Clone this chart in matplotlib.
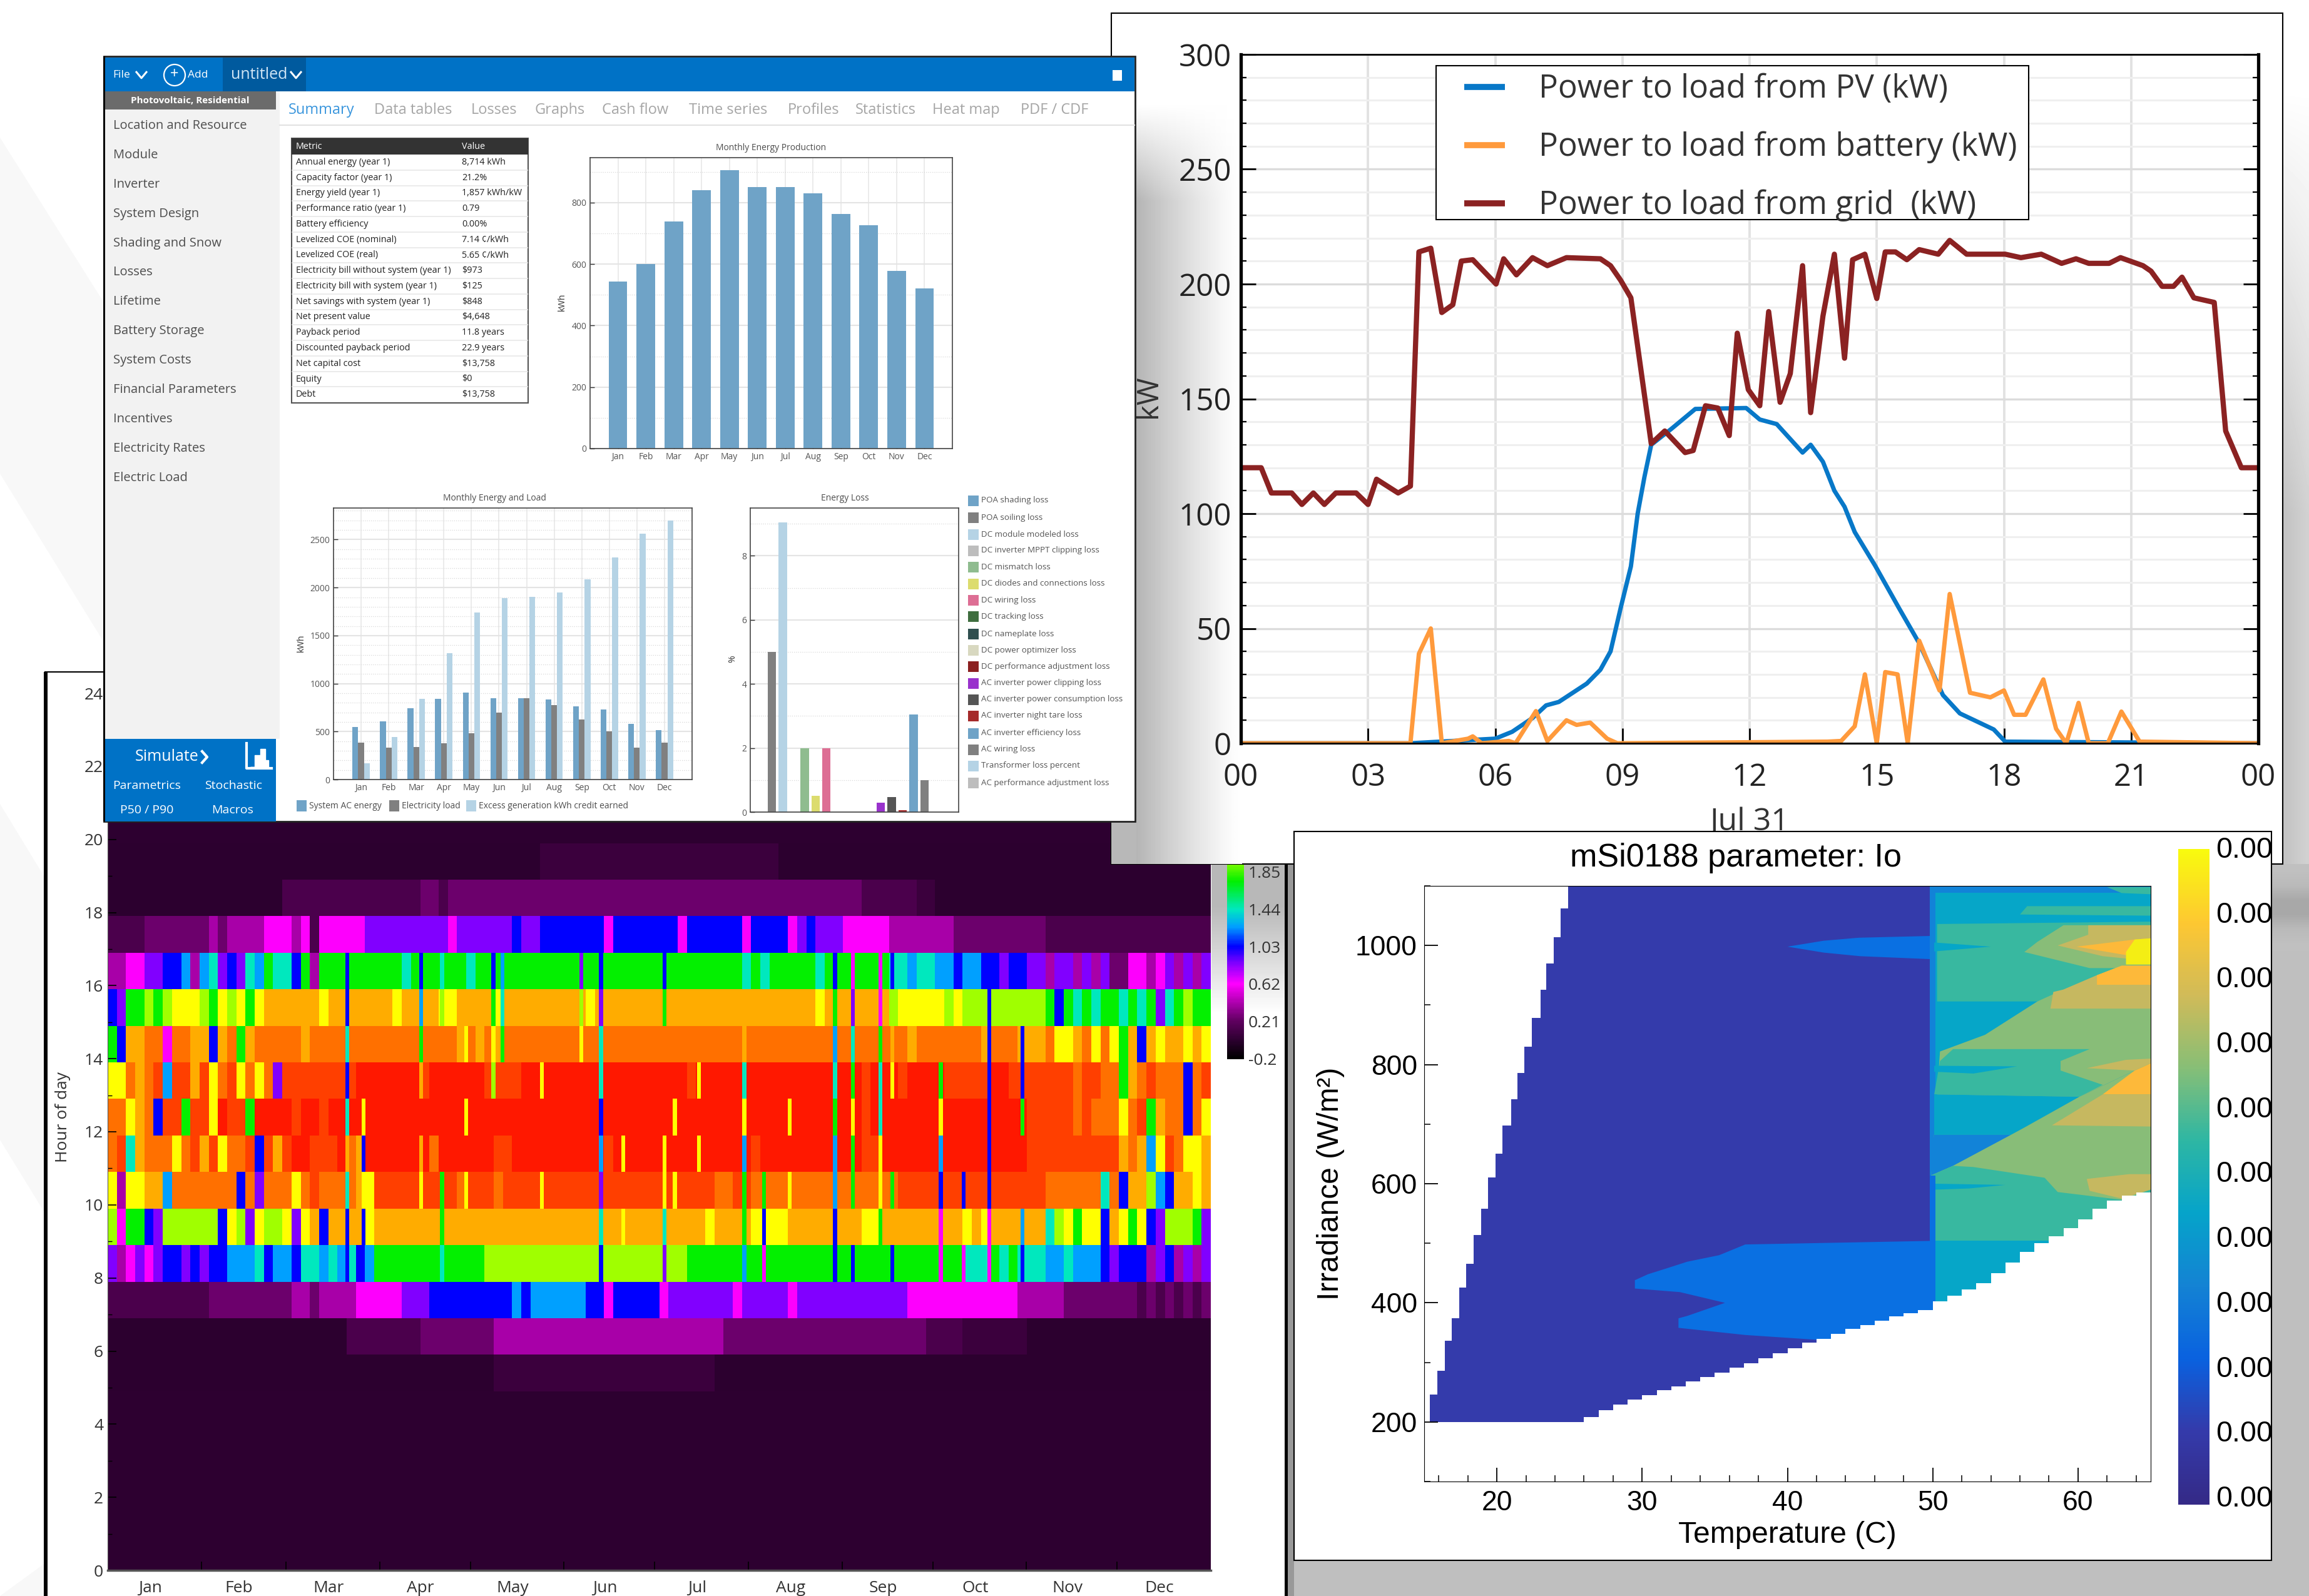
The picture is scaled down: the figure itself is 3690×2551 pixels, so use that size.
import numpy as np
import matplotlib
matplotlib.use('Agg')
import matplotlib.pyplot as plt
from matplotlib.colors import LinearSegmentedColormap
from matplotlib.patches import Rectangle, Circle, Polygon
from matplotlib.ticker import MultipleLocator

plt.rcParams['font.family'] = ['Open Sans', 'DejaVu Sans']

W, H = 3690, 2551
months = ['Jan', 'Feb', 'Mar', 'Apr', 'May', 'Jun', 'Jul', 'Aug', 'Sep', 'Oct', 'Nov', 'Dec']
month_starts = [0, 31, 59, 90, 120, 151, 181, 212, 243, 273, 304, 334, 365]

# ---- heat map: one string per hour, one char per 3 days, groups are months
heat_h05 = ".......... .......... .......... .......... ..00000000 0000000000 000000.... .......... .......... .......... .......... .........."
heat_h06 = ".......... .......... ......1111 1111222222 2233333333 3333333333 3333333222 2222222222 2222222221 1110000000 .......... .........."
heat_h07 = "1111111111 1222222222 3323333444 4455566666 6666767777 7766466666 4555555545 5555455555 5555555444 4444444443 3333222222 2212121212"
heat_h08 = "5345456656 5667778677 6887878679 9999999999 9AAAAAAAAA AAAAAAAAAA AAA9999999 9999999999 9999999999 9998889898 8877877765 6663563535"
heat_h09 = "A49965AAAA AA6BA5BAAB 5BC6CCCCBC CCCCCCCCCC CCCCCCCCCC CCCCCCCCCC CCCCCBCCCC BBBBCCCCCC CCBBCCCCCC CCCBCBCCCC CC8AB9BB6C B9B65AAA95"
heat_h10 = "B3BBCC7DDD DDDD6D5DDD BDEDDDDCBE EEEEEEEEDE EEDEEEEEEE EEEEEEEEEE EEEEEEDDEE DDDDDDDDDD DDDDDDEEEE EEEEEEEEEE EEDDDDDD8D 6CCA76CCBC"
heat_h11 = "DE8CDDDBDE CEBDDE6ECE FFEEEFDCFF FFFFFDFFFF FFEEFFFFFF FFFFEFFFFF FFFFFFFFFF EFFFFFFFFF FFEEFFFFFF FFFFFFFFFF EEEEEEEEEE CDC7BEDBBC"
heat_h12 = "DDBCD6EE9E EBFEE9FFFF EFFEFFFFFF FFFFFFFFFF FFFFFFFFFF FFFFFFFFFF FFFFFFFFFF FFFFFFFFFF FFEFFFFFFF FFFFFFFFFF EEEEEDEDDD BDE9CDD6DB"
heat_h13 = "BBDCDE7EEC EBDEBDBD5E EEEEEEEFFF FFFFEFFFFF FEEEEFFFFF FFFFFFFFFF FFFEFFFFFF FFFFFFFFFF FFEFFFEFFF FEEEEEFFEE EEEEEDEEDD 9CDEDDD6DE"
heat_h14 = "96CCDD4DDC C6CD9CDDDD DCDDDDDDDD DDDDDDDDCD CDCDDDDDDD DDDDDDDDDD DDDDDDDDDD DDDDDDDDDD DDDDDDDCDD DDDDDCDDDC CCDBBCDBDB 9C6CBCCBCB"
heat_h15 = "6599A9ABBB A9BAB9BCCC CCCBCCCCCC CBCCCCBBCC CCBCCCCCCC CCBCCCCCCC CCCCCCCCCC CCCCCCCBCC CCCCCABBBB BABAAAAAAA AA96989899 8989589A99"
heat_h16 = "3344556673 7856587988 6939999999 9989999998 9999999999 9999999999 9999999998 9899999899 9999988788 7767766566 5535535352 2443453535"
heat_h17 = "1111222222 2323333444 3414444455 5555555455 5555655666 6666466666 6646666664 6666456555 4444433333 3322222222 2211111111 1111111111"
heat_h18 = ".......... .........1 1111111111 1111221222 2222222222 2222222222 2222222222 2222222222 2211111100 .......... .......... .........."
heat_h19 = ".......... .......... .......... .......... .......000 0000000000 0000000000 000....... .......... .......... .......... .........."
heat_rows = [heat_h05, heat_h06, heat_h07, heat_h08, heat_h09, heat_h10, heat_h11, heat_h12,
             heat_h13, heat_h14, heat_h15, heat_h16, heat_h17, heat_h18, heat_h19]
heat_first_hour = 5
heat_codes = '.0123456789ABCDEF'
heat_code_values = [0.0, 0.06, 0.13, 0.25, 0.4, 0.62, 0.85, 1.03, 1.25, 1.44, 1.75, 2.0, 2.26, 2.52, 2.7, 2.9, 3.1]
heat_cbar_ticks = [-0.2, 0.21, 0.62, 1.03, 1.44, 1.85]
# cloudy single days, codes for hours 8..16, '-' keeps the row value
stripe_days = [78.7, 84, 103, 110, 118, 127, 130, 143, 156, 162.6, 170, 183.6, 187, 195, 210, 216.5, 225, 240, 246, 255, 259, 275, 282.6, 291, 302]
stripe_codes = ['668C86866', '-6B6B----', '--BC-C976', '899----A8', '--B-B-B--', '-----AB96', '------987', '--B--B---', '------BA5',
                '685768856', '-B-B-----', '58BB---96', '--B-B----', '---B-B---', '7997B8C--', '469------', '--B-B----', '667798796',
                '6-99B9854', '-9BB88944', '6-9--BC-6', '4467B9---', '4-6------', '44666666-', '67--966--']

# ---- power to load, 31 Jul
grid_h = [0, .48, .72, 1.2, 1.44, 1.71, 1.97, 2.24, 2.72, 3, 3.2, 3.71, 4, 4.2, 4.48, 4.74, 5, 5.2, 5.47, 6.02, 6.2, 6.5,
          6.88, 7.23, 7.68, 8.48, 8.72, 8.96, 9.2, 9.68, 10, 10.48, 10.67, 10.96, 11.25, 11.52, 11.71, 11.97, 12.24, 12.45,
          12.72, 12.96, 13.25, 13.44, 13.73, 14, 14.24, 14.43, 14.72, 15, 15.2, 15.44, 15.71, 16, 16.45, 16.72, 17.12, 18.03,
          18.4, 18.88, 19.36, 19.7, 20, 20.48, 20.75, 21.28, 21.47, 21.73, 22, 22.2, 22.48, 22.96, 23.23, 23.6, 24]
grid_kw = [120, 120, 109, 109, 104, 109, 104, 109, 109, 104, 115, 109, 112, 214, 215.6, 187.6, 191, 210, 210.6, 200, 211, 204,
           211.5, 208, 211.5, 211, 208, 201.6, 194, 130.5, 136, 126.6, 127.5, 147, 146, 134, 178.6, 154, 147, 188,
           148.5, 161, 208, 144, 186, 213, 167.7, 210.6, 213, 193.7, 214, 214, 210.6, 215, 213, 219, 213, 213,
           211.5, 213, 209, 211, 209, 209, 211.5, 208, 205.6, 199, 199, 203, 194, 192, 136, 120, 120]
pv_h = [0, 4, 6, 6.4, 6.88, 7.2, 7.5, 8.16, 8.48, 8.72, 8.96, 9.2, 9.36, 9.52, 9.68, 10.16, 10.72, 11.92, 12.24, 12.64, 13.25,
        13.44, 13.73, 14, 14.24, 14.48, 14.96, 15.52, 16, 16.56, 16.96, 17.76, 18.03, 24]
pv_kw = [0, 0, 2, 5, 11, 16.5, 18, 26, 32, 40, 59, 77, 100, 116, 130, 137, 145.6, 146, 141, 139, 126.6,
         130, 122.6, 110, 103, 92, 77.4, 59, 43.6, 21, 13, 6, 0.7, 0]
batt_h = [0, 4, 4.2, 4.48, 4.74, 5.36, 5.47, 5.68, 6.32, 6.48, 6.96, 7.23, 7.68, 7.92, 8.24, 8.64, 8.88, 13.84, 14.16, 14.48,
          14.72, 15, 15.2, 15.49, 15.73, 16, 16.48, 16.72, 17.2, 17.68, 18, 18.24, 18.51, 18.93, 19.23, 19.47, 19.76, 20,
          20.45, 20.77, 21.2, 24]
batt_kw = [0, 0, 39, 50, 0, 2, 3, 0, 1, 0, 14, 1, 10, 8, 9, 2, 0, 0.7, 1, 7.4,
           30, 0, 31, 30, 0, 44.7, 23, 65, 22, 20, 23, 12.4, 12.4, 27.8, 6.3, 0, 17.6, 0,
           0, 13.8, 0.7, 0]
pv_legend = ['Power to load from PV (kW)', 'Power to load from battery (kW)', 'Power to load from grid  (kW)']
pv_colors = ['#0878c8', '#ff9a3c', '#8b2222']

# ---- SAM summary window
sidebar_items = ['Location and Resource', 'Module', 'Inverter', 'System Design', 'Shading and Snow', 'Losses', 'Lifetime',
                 'Battery Storage', 'System Costs', 'Financial Parameters', 'Incentives', 'Electricity Rates', 'Electric Load']
tab_names = ['Summary', 'Data tables', 'Losses', 'Graphs', 'Cash flow', 'Time series', 'Profiles', 'Statistics', 'Heat map', 'PDF / CDF']
tab_x = [461, 598, 753, 854, 962, 1101, 1259, 1367, 1490, 1631]
metric_names = ['Annual energy (year 1)', 'Capacity factor (year 1)', 'Energy yield (year 1)', 'Performance ratio (year 1)',
                'Battery efficiency', 'Levelized COE (nominal)', 'Levelized COE (real)', 'Electricity bill without system (year 1)',
                'Electricity bill with system (year 1)', 'Net savings with system (year 1)', 'Net present value', 'Payback period',
                'Discounted payback period', 'Net capital cost', 'Equity', 'Debt']
metric_values = ['8,714 kWh', '21.2%', '1,857 kWh/kW', '0.79', '0.00%', '7.14 ¢/kWh', '5.65 ¢/kWh', '$973', '$125', '$848',
                 '$4,648', '11.8 years', '22.9 years', '$13,758', '$0', '$13,758']
monthly_prod = [543, 600, 738, 840, 905, 850, 851, 830, 762, 726, 578, 520]
ac_energy = [545, 605, 740, 842, 907, 849, 849, 833, 765, 731, 579, 517]
elec_load = [384, 330, 340, 375, 482, 698, 849, 773, 628, 500, 330, 384]
excess_gen = [168, 442, 842, 1317, 1741, 1892, 1903, 1952, 2087, 2317, 2565, 2700]
loss_names = ['POA shading loss', 'POA soiling loss', 'DC module modeled loss', 'DC inverter MPPT clipping loss', 'DC mismatch loss',
              'DC diodes and connections loss', 'DC wiring loss', 'DC tracking loss', 'DC nameplate loss', 'DC power optimizer loss',
              'DC performance adjustment loss', 'AC inverter power clipping loss', 'AC inverter power consumption loss',
              'AC inverter night tare loss', 'AC inverter efficiency loss', 'AC wiring loss', 'Transformer loss percent',
              'AC performance adjustment loss']
loss_values = [0, 5, 9.05, 0, 2, 0.5, 2, 0, 0, 0, 0, 0.3, 0.46, 0.05, 3.05, 1, 0, 0]
loss_colors = ['#6fa3c7', '#808080', '#b5d3e5', '#bdbdbd', '#8fbc8f', '#dcdc6e', '#dd6e94', '#3f6e3f', '#2f4f4f', '#d8d8c0',
               '#8b2020', '#9932cc', '#555555', '#a52a2a', '#6fa3c7', '#808080', '#b5d3e5', '#bdbdbd']
loss_legend_y = [800, 827, 854, 880, 906, 933, 959, 985, 1013, 1039, 1065, 1092, 1118, 1144, 1172, 1198, 1224, 1251]

# ---- contour panel: valid region edge, then the filled levels (temperature, irradiance)
left_T = [15.4, 15.9, 16.4, 16.9, 17.4, 17.9, 18.4, 18.9, 19.4, 19.9, 20.4, 21, 21.4, 21.9, 22.4, 23, 23.4, 23.9, 24.4, 24.9]
left_G = [246, 286, 336, 374, 426, 466, 514, 558, 610, 650, 698, 742, 786, 830, 878, 926, 970, 1014, 1062, 1100]
lower_T = [25, 26, 27, 28, 29, 30, 31, 32, 33, 34, 35, 36, 37, 38, 39, 40, 41, 42, 43, 44, 45, 46, 47, 48, 49, 50, 51, 52, 53, 54,
           55, 56, 57, 58, 59, 60, 61, 62, 63, 64, 65]
lower_G = [200, 208, 220, 229, 238, 245, 253, 260, 268, 275, 283, 291, 299, 307, 315, 324, 333, 340, 348, 356, 363, 370, 377, 383,
           388, 403, 412, 423, 433, 450, 468, 485, 500, 512, 525, 540, 558, 572, 580, 585, 592]
c_mid, c_blob, c_teal, c_gt, c_green, c_khaki, c_orange, c_yellow = ('#1283d8', '#0a70e2', '#06a6c8', '#38b8a0', '#88bd78',
                                                                    '#c6b860', '#fdb93a', '#f4ee14')
blob_top = [(40, 998), (42.5, 1008), (44.9, 1013), (49.9, 1016), (49.9, 977), (45, 982), (42.5, 988)]
blob_low = [(49.9, 504), (37.1, 498), (35.3, 480), (33.1, 469), (31.7, 458), (30.4, 448), (29.5, 438), (29.5, 424), (32.6, 418),
            (35.7, 400), (33.1, 378), (32.5, 374), (32.5, 358), (37.1, 346), (42, 338), (50, 338)]
diag1 = [(50.5, 822), (53.6, 850), (57.2, 906), (59, 926), (61.3, 950), (63, 966), (65, 966)]
diag2 = [(49.9, 614), (51.4, 630), (56.3, 694), (60.1, 746), (63.9, 790), (65, 802)]
contour_layers = [
    (c_mid, [(49.8, 338), (65, 338), (65, 1100), (49.8, 1100)]),
    (c_teal, [(50.2, 390), (65, 390), (65, 1088), (50.2, 1088)]),
    (c_gt, [(50.3, 1036), (65, 1040), (65, 906), (50.3, 906)]),
    (c_gt, [(56.5, 1066), (65, 1066), (65, 1050), (56, 1052)]),
    (c_gt, [(62, 1098), (65, 1098), (65, 1086), (63, 1088)]),
    (c_teal, [(50.1, 1005), (54, 998), (50.1, 990)]),
    (c_green, [(59, 1034), (65, 1034), (65, 962), (60.8, 962), (56.3, 989), (57.2, 1006)]),
    (c_khaki, [(60.7, 1034), (65, 1034), (65, 974), (61.7, 982), (58.6, 1000), (60.7, 1018)]),
    (c_orange, [(59.9, 998), (63.9, 1010), (65, 1012), (65, 978), (63, 985)]),
    (c_yellow, [(63.3, 989), (63.9, 1010), (65, 1012), (65, 968), (63.3, 968)]),
    (c_green, diag1 + diag2[::-1]),
    (c_khaki, [(58.3, 922), (59, 926), (61.3, 950), (63, 966), (65, 966), (65, 894), (58.1, 894)]),
    (c_orange, [(61.3, 934), (61.3, 950), (63, 966), (65, 966), (65, 934)]),
    (c_gt, [(50.5, 806), (51.4, 826), (60.8, 826), (58.8, 806), (58.8, 790), (61.7, 766), (60.1, 746), (50.1, 750)]),
    (c_teal, [(50.1, 750), (60.1, 746), (55.4, 682), (50.1, 682)]),
    (c_mid, [(50.1, 682), (55.4, 682), (51.4, 630), (49.9, 614), (49.9, 660)]),
    (c_teal, [(50.1, 798), (55.8, 797), (52.8, 785), (50.1, 788)]),
    (c_khaki, [(60.6, 794), (63.3, 808), (65, 810), (65, 802), (63.9, 790)]),
    (c_green, diag2 + [(65, 100), (49.9, 100)]),
    (c_orange, [(61.7, 750), (63.9, 790), (65, 802), (65, 750)]),
    (c_khaki, [(58.2, 698), (61.7, 750), (65, 750), (65, 696)]),
    (c_khaki, [(60.6, 608), (63.5, 616), (65, 616), (65, 590), (63, 575), (60.8, 588)]),
    (c_gt, [(49.9, 614), (51.4, 630), (52.8, 628), (57.7, 610), (58.6, 586), (63, 573), (65, 590), (65, 503), (49.9, 503)]),
    (c_teal, [(50.1, 600), (55, 598), (52.5, 592), (50.1, 590)]),
    (c_teal, [(49.9, 504), (65, 504), (65, 390), (49.9, 390)]),
    (c_blob, [(49.8, 338), (50.2, 338), (50.2, 614), (49.8, 614)]),
]
parula_colors = ['#352a87', '#343bab', '#0a62e0', '#1483d4', '#06a4ca', '#2eb7a4', '#87bf77', '#d1bb59', '#fec832', '#f9fb0e']
contour_bar_labels = ['0.00'] * 11

fig = plt.figure(figsize=(W / 100, H / 100), dpi=100, facecolor='white')


def px_axes(l, t, r, b, z):
    return fig.add_axes([l / W, 1 - b / H, (r - l) / W, (b - t) / H], zorder=z)


def layer(z):
    a = fig.add_axes([0, 0, 1, 1], zorder=z)
    a.set_xlim(0, W)
    a.set_ylim(H, 0)
    a.axis('off')
    a.patch.set_alpha(0)
    return a


def shade(a, l, t, r, b, arr, level):
    # gray wash, arr goes 0..1 as shadow strength
    a.imshow(1 - (1 - level) * arr, extent=(l, r, b, t), cmap='gray', vmin=0, vmax=1, aspect='auto', interpolation='bilinear', zorder=1)


# ---- background
bg = layer(0)
for pts in [[(0, 220), (170, 490), (170, 1033), (0, 757)], [(0, 1285), (70, 1400), (70, 1936), (0, 1822)], [(0, 2551), (70, 2500), (70, 2551)]]:
    bg.add_patch(Polygon(pts, fc='#f8f8f8', ec='none'))
bg.add_patch(Rectangle((2054, 1381), W - 2054, H - 1381, fc='#bfbfbf', ec='none'))
bg.add_patch(Rectangle((2056, 1381), 12, H - 1381, fc='#999999', ec='none'))
fade_y = np.clip((np.arange(60) - 4) / 30, 0, 1)[:, None]
shade(bg, 3648, 40, W, 1400, fade_y * np.linspace(1, 0.75, 10)[None, :], 0.76)
shade(bg, 3630, 1381, W, 1520, np.array([[0.735], [0.8], [1], [1], [0.8], [0.735]]), 0.66)

# ---- heat map window
hl = layer(1)
hl.add_patch(Rectangle((72, 1074), 1984, H, fc='white', ec='black', lw=1.5))
hl.add_patch(Rectangle((70, 1074), 6, H, fc='black', ec='none', zorder=3))
hl.add_patch(Rectangle((2053, 1074), 5, H, fc='black', ec='none', zorder=3))
fade_h = np.clip(1 - (np.arange(60) - 15) / 40, 0, 1)[:, None]
shade(hl, 1936, 1381, 2053, 1640, fade_h * np.ones((1, 2)), 0.72)

heat_cmap = LinearSegmentedColormap.from_list('heat', [
    (0.0, '#000000'), (0.2 / 3.3, '#2d0030'), (0.41 / 3.3, '#600060'), (0.82 / 3.3, '#ff00ff'), (1.05 / 3.3, '#8000ff'),
    (1.23 / 3.3, '#0000ff'), (1.45 / 3.3, '#00a0ff'), (1.64 / 3.3, '#00e8c0'), (1.95 / 3.3, '#00f000'), (2.2 / 3.3, '#a0ff00'),
    (2.46 / 3.3, '#ffff00'), (2.72 / 3.3, '#ffb000'), (2.9 / 3.3, '#ff7000'), (3.1 / 3.3, '#ff4000'), (1.0, '#ff1800')])

ax_heat = px_axes(172, 1108, 1935, 2510, 2)
ax_heat.set_facecolor('#2d0030')
for i, row in enumerate(heat_rows):
    codes = row.replace(' ', '')
    vals = np.array([heat_code_values[heat_codes.index(c)] for c in codes])[None, :]
    hour = heat_first_hour + i
    ax_heat.pcolormesh(np.linspace(0, 365, len(codes) + 1), [hour - 0.1, hour + 0.9], vals, cmap=heat_cmap, vmin=-0.2, vmax=3.1, antialiased=False)
for day, codes in zip(stripe_days, stripe_codes):
    for k, c in enumerate(codes):
        if c != '-':
            ax_heat.pcolormesh([day, day + 1.3], [7.9 + k, 8.9 + k], [[heat_code_values[heat_codes.index(c)]]], cmap=heat_cmap, vmin=-0.2, vmax=3.1, antialiased=False)
ax_heat.set_xlim(0, 365)
ax_heat.set_ylim(0, 24)
ax_heat.set_yticks(range(0, 25, 2))
ax_heat.yaxis.set_minor_locator(MultipleLocator(1))
ax_heat.set_xticks(month_starts[1:-1])
ax_heat.set_xticklabels([])
ax_heat.tick_params(axis='x', direction='in', length=10, width=1.2, color='black')
ax_heat.tick_params(axis='y', which='major', direction='in', length=10, width=1.2, color='black', labelsize=19, labelcolor='#333333', pad=5)
ax_heat.tick_params(axis='y', which='minor', direction='in', length=5, width=1, color='black')
for m, name in enumerate(months):
    ax_heat.text((month_starts[m] + month_starts[m + 1]) / 2 - 1.5, -0.49, name, ha='center', va='center', fontsize=19, color='#333333')
ax_heat.text(-14.8, 12.4, 'Hour of day', rotation=90, ha='center', va='center', fontsize=19, color='#333333')
for s in ['top', 'right']:
    ax_heat.spines[s].set_visible(False)
ax_heat.spines['left'].set_color('#555555')
ax_heat.spines['bottom'].set_color('#555555')
ax_heat.spines['bottom'].set_linewidth(2.5)

ax_hbar = px_axes(1961, 1300, 1988, 1697, 2.5)
ax_hbar.imshow(np.linspace(2.49, -0.2, 256)[:, None], aspect='auto', cmap=heat_cmap, vmin=-0.2, vmax=3.1, extent=(0, 1, -0.2, 2.49))
ax_hbar.set_xticks([])
ax_hbar.set_ylim(-0.23, 2.49)
ax_hbar.yaxis.tick_right()
ax_hbar.set_yticks(heat_cbar_ticks)
ax_hbar.set_yticklabels(['%.2f' % v if v > 0 else '-0.2' for v in heat_cbar_ticks])
ax_hbar.tick_params(axis='y', length=0, labelsize=19, labelcolor='#333333', pad=5)
ax_hbar.patch.set_alpha(0)
for s in ax_hbar.spines.values():
    s.set_visible(False)

# ---- power to load window
pl = layer(4)
pl.add_patch(Rectangle((1776, 21), 3648 - 1776, 1360, fc='white', ec='black', lw=1.5))
fade_x = np.clip(1 - (np.arange(60) - 0) / 59, 0, 1)[None, :] ** 1.2
fade_t = np.clip((np.arange(60) - 4) / 7, 0, 1)[:, None]
shade(pl, 1815, 70, 1985, 1381, fade_t * fade_x, 0.71)
pl.add_patch(Rectangle((1776, 1313), 40, 68, fc='#b8b8b8', ec='none', zorder=1))
pl.text(1835, 634, 'kW', rotation=90, ha='center', va='center', fontsize=34, color='#333333', zorder=3)
pl.text(2796, 1314, 'Jul 31', ha='center', va='center', fontsize=36, color='#333333', zorder=3)

ax_pv = px_axes(1983, 87, 3609, 1188, 5)
ax_pv.patch.set_alpha(0)
ax_pv.plot(pv_h, pv_kw, color=pv_colors[0], lw=5, solid_joinstyle='round')
ax_pv.plot(batt_h, batt_kw, color=pv_colors[1], lw=5, solid_joinstyle='round')
ax_pv.plot(grid_h, grid_kw, color=pv_colors[2], lw=6, solid_joinstyle='round')
ax_pv.set_xlim(0, 24)
ax_pv.set_ylim(0, 300)
ax_pv.set_xticks(range(0, 25, 3))
ax_pv.set_xticklabels(['00', '03', '06', '09', '12', '15', '18', '21', '00'])
ax_pv.set_yticks(range(0, 301, 50))
ax_pv.yaxis.set_minor_locator(MultipleLocator(10))
ax_pv.grid(axis='x', which='major', color='#e2e2e2', lw=2.8)
ax_pv.grid(axis='y', which='major', color='#dcdcdc', lw=2.4)
ax_pv.grid(axis='y', which='minor', color='#efefef', lw=2.2)
ax_pv.set_axisbelow(True)
ax_pv.tick_params(axis='both', which='major', direction='in', length=17, width=2, labelsize=35.5, labelcolor='#222222', color='black', pad=22)
ax_pv.tick_params(axis='y', which='both', right=True, direction='in')
ax_pv.tick_params(axis='y', which='minor', length=6.5, width=1.6, color='black')
ax_pv.tick_params(axis='y', which='major', pad=11)
for s, lw in [('left', 3.8), ('right', 3.8), ('top', 2), ('bottom', 2.2)]:
    ax_pv.spines[s].set_linewidth(lw)

pv_leg = layer(6)
pv_leg.add_patch(Rectangle((2295, 105), 947, 246, fc='white', ec='black', lw=1.5))
for name, col, y in zip(pv_legend, pv_colors, [139, 232, 325]):
    pv_leg.plot([2340, 2405], [y, y], color=col, lw=7, solid_capstyle='butt')
    pv_leg.text(2459, y + 3, name, fontsize=37, color='#333333', va='center', ha='left')

# ---- contour window
cl = layer(7)
cl.add_patch(Rectangle((2068, 1329), 3630 - 2068, 2494 - 1329, fc='white', ec='black', lw=1.5))
cl.text(2774, 1372, 'mSi0188 parameter: Io', fontsize=37.5, family='Liberation Sans', ha='center', va='center')

ax_c = px_axes(2276, 1416, 3437, 2368, 8)
stair_low = []
for k, (t, g) in enumerate(zip(lower_T, lower_G)):
    stair_low.append((t, g))
    stair_low.append((lower_T[k + 1] if k + 1 < len(lower_T) else t, g))
stair_left = [(left_T[0], 200)]
for k, (t, g) in enumerate(zip(left_T, left_G)):
    stair_left.append((t, g))
    if k + 1 < len(left_T):
        stair_left.append((left_T[k + 1], g))
region = Polygon([(15.4, 200)] + stair_low + [(65, 1100)] + stair_left[::-1], fc='#343bab', ec='none')
ax_c.add_patch(region)
for pts in [blob_top, blob_low]:
    p = ax_c.add_patch(Polygon(pts, fc=c_blob, ec='none'))
    p.set_clip_path(region)
for col, pts in contour_layers:
    p = ax_c.add_patch(Polygon(pts, fc=col, ec='none'))
    p.set_clip_path(region)
ax_c.set_xlim(15, 65)
ax_c.set_ylim(100, 1100)
ax_c.set_xticks(range(20, 61, 10))
ax_c.set_yticks(range(200, 1001, 200))
ax_c.xaxis.set_minor_locator(MultipleLocator(2))
ax_c.yaxis.set_minor_locator(MultipleLocator(100))
ax_c.tick_params(axis='both', which='major', direction='in', length=16, width=1.3, labelsize=32, pad=8)
ax_c.tick_params(axis='x', which='major', pad=10)
ax_c.tick_params(axis='both', which='minor', direction='in', length=7, width=1.1)
for lab in ax_c.get_xticklabels() + ax_c.get_yticklabels():
    lab.set_family('Liberation Sans')
ax_c.set_xlabel('Temperature (C)', fontsize=34.5, family='Liberation Sans', labelpad=6)
ax_c.set_ylabel('Irradiance (W/m²)', fontsize=34.5, family='Liberation Sans', labelpad=12)

parula = LinearSegmentedColormap.from_list('parula_like', parula_colors)
ax_cb = px_axes(3481, 1340, 3531, 2405, 8)
ax_cb.imshow(np.linspace(1, 0, 256)[:, None], aspect='auto', cmap=parula, extent=(0, 1, -0.135, 9.97))
ax_cb.set_xlim(0, 1)
ax_cb.set_ylim(-0.135, 10.135)
ax_cb.set_xticks([])
ax_cb.yaxis.tick_right()
ax_cb.set_yticks(range(11))
ax_cb.set_yticklabels(contour_bar_labels)
ax_cb.tick_params(axis='y', length=0, labelsize=33.5, pad=7)
ax_cb.patch.set_alpha(0)
for lab in ax_cb.get_yticklabels():
    lab.set_family('Liberation Sans')
for s in ax_cb.spines.values():
    s.set_visible(False)

# ---- SAM window
sam = layer(20)
sam.add_patch(Rectangle((166, 90), 1648, 1223, fc='white', ec='#222222', lw=2, zorder=1))
sam.add_patch(Rectangle((165, 90), 3, 1223, fc='black', ec='none', zorder=4))
sam.add_patch(Rectangle((168, 92), 1645, 54, fc='#0072c6', ec='none', zorder=2))
sam.add_patch(Rectangle((356, 92), 133, 54, fc='#005a9e', ec='none', zorder=3))
sam.add_patch(Rectangle((168, 146), 279, 1035, fc='#f2f2f2', ec='none', zorder=2))
sam.add_patch(Rectangle((168, 146), 273, 29, fc='#6b6b6b', ec='none', zorder=3))
sam.add_patch(Rectangle((168, 1181), 273, 132, fc='#0072c6', ec='none', zorder=3))
sam.plot([447, 1813], [200, 200], color='#e2e2e2', lw=1.5, zorder=2)
sam.add_patch(Rectangle((1778, 112), 15, 17, fc='white', ec='none', zorder=4))


def ui_text(x, y, s, size, color='#4d4d4d', ha='left', **kw):
    sam.text(x, y, s, fontsize=size, color=color, ha=ha, va='center', zorder=5, **kw)


def chevron(x, y, w=8):
    sam.plot([x - w, x, x + w], [y - w * 0.6, y + w * 0.6, y - w * 0.6], color='white', lw=2.2, zorder=5)


ui_text(180, 120, 'File', 12.5, 'white')
chevron(226, 120)
sam.add_patch(Circle((279, 120), 17, fc='none', ec='white', lw=1.6, zorder=5))
ui_text(279, 119, '+', 17, 'white', ha='center')
ui_text(300, 120, 'Add', 12.5, 'white')
ui_text(369, 120, 'untitled', 18, '#cfe4f5')
chevron(473, 120)
ui_text(304, 161, 'Photovoltaic, Residential', 11, 'white', ha='center', fontweight='bold')
for k, item in enumerate(sidebar_items):
    ui_text(181, 201 + 46.9 * k, item, 14.5)
for k, (name, x) in enumerate(zip(tab_names, tab_x)):
    ui_text(x, 176, name, 17, '#3a96dd' if k == 0 else '#a6a6a6')

sam.add_patch(Rectangle((466, 221), 378, 423, fc='white', ec='#555555', lw=1.5, zorder=3))
sam.add_patch(Rectangle((466, 221), 378, 26, fc='#333333', ec='none', zorder=4))
ui_text(473, 234, 'Metric', 10.4, 'white')
ui_text(738, 234, 'Value', 10.4, 'white')
for k, (name, val) in enumerate(zip(metric_names, metric_values)):
    yc = 259.5 + 24.75 * k
    ui_text(473, yc, name, 10.4, '#222222')
    ui_text(738, yc, val, 10.4, '#222222')
    if k:
        sam.plot([467, 843], [yc - 12.4, yc - 12.4], color='#e8e8e8', lw=1.2, zorder=4)

for x, y, s in [(235, 1256, 'Parametrics'), (373, 1256, 'Stochastic'), (235, 1295, 'P50 / P90'), (372, 1295, 'Macros')]:
    ui_text(x, y, s, 14, 'white', ha='center')
ui_text(267, 1210, 'Simulate', 18, 'white', ha='center')
sam.plot([323, 331, 323], [1201, 1210, 1219], color='white', lw=3, zorder=5)
sam.plot([394, 394, 434], [1188, 1228, 1228], color='white', lw=3, zorder=5)
sam.fill([400, 407, 407, 416, 416, 424, 424, 429, 429, 400], [1226, 1226, 1207, 1207, 1197, 1197, 1215, 1215, 1226, 1226], color='white', zorder=5)


def small_chart(l, t, r, b, ylim, ymajor, yminor):
    a = px_axes(l, t, r, b, 21)
    a.set_ylim(0, ylim)
    a.set_yticks(range(0, int(ylim) + 1, ymajor))
    a.yaxis.set_minor_locator(MultipleLocator(yminor))
    a.grid(axis='y', which='major', color='#e4e4e4', lw=1.5)
    a.grid(axis='y', which='minor', color='#d8d8d8', lw=0.9, ls=':')
    a.set_axisbelow(True)
    a.tick_params(axis='both', which='major', direction='in', length=5, width=1, color='#333333', labelsize=10, labelcolor='#555555', pad=4)
    a.tick_params(axis='both', which='minor', length=0)
    for s in a.spines.values():
        s.set_color('#444444')
        s.set_linewidth(1.2)
    return a


def month_axis(a):
    a.set_xlim(0, 13)
    a.set_xticks(range(1, 13))
    a.set_xticklabels(months)
    a.grid(axis='x', which='major', color='#e8e8e8', lw=1.2)


x_m = np.arange(1, 13)
ax1 = small_chart(943, 252, 1522, 717, 946, 200, 100)
month_axis(ax1)
ax1.bar(x_m, monthly_prod, width=0.67, color='#6fa3c7')
ui_text(1232, 237, 'Monthly Energy Production', 10, ha='center')
sam.text(898, 483, 'kWh', rotation=90, ha='center', va='center', fontsize=10, color='#333333', zorder=5)

ax2 = small_chart(533, 812, 1106, 1246, 2829, 500, 100)
month_axis(ax2)
ax2.bar(x_m - 0.21, ac_energy, width=0.21, color='#6fa3c7')
ax2.bar(x_m, elec_load, width=0.21, color='#808080')
ax2.bar(x_m + 0.21, excess_gen, width=0.21, color='#b5d3e5')
ui_text(790, 797, 'Monthly Energy and Load', 10, ha='center')
sam.text(481, 1028, 'kWh', rotation=90, ha='center', va='center', fontsize=10, color='#333333', zorder=5)
for x, col, name in [(474, '#6fa3c7', 'System AC energy'), (622, '#808080', 'Electricity load'), (745, '#b5d3e5', 'Excess generation kWh credit earned')]:
    sam.add_patch(Rectangle((x, 1279), 16, 18, fc=col, ec='none', zorder=5))
    ui_text(x + 20, 1288, name, 10)

ax3 = small_chart(1199, 812, 1532, 1298, 9.49, 2, 1)
ax3.bar(np.arange(1, 19), loss_values, width=0.77, color=loss_colors)
ax3.set_xlim(0, 19.15)
ax3.set_xticks([])
ui_text(1350, 797, 'Energy Loss', 10, ha='center')
sam.text(1171, 1053, '%', rotation=90, ha='center', va='center', fontsize=10, color='#333333', zorder=5)
for name, col, y in zip(loss_names, loss_colors, loss_legend_y):
    sam.add_patch(Rectangle((1547, y - 8.5), 17, 17, fc=col, ec='none', zorder=5))
    ui_text(1568, y, name, 9.65, '#555555')

fig.savefig('out.png', dpi=100, facecolor='white')
